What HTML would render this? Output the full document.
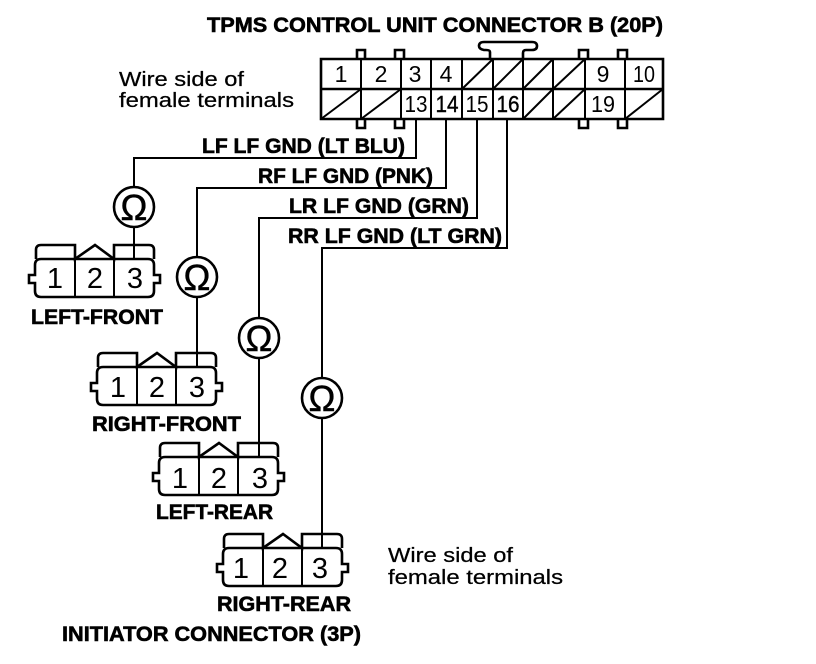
<!DOCTYPE html>
<html><head><meta charset="utf-8"><style>
html,body{margin:0;padding:0;background:#fff}
svg{display:block}
text{font-family:"Liberation Sans",sans-serif;fill:#000}
.b{font-weight:bold;font-size:21px;stroke:#000;stroke-width:.6px}
.r{font-size:20px;stroke:#000;stroke-width:.25px}
.n{font-size:29px;text-anchor:middle}
.m{font-size:23px;text-anchor:middle}
.o{font-size:36px;text-anchor:middle;stroke:#000;stroke-width:.5px}
.l{fill:none;stroke:#000;stroke-width:2}
.t{fill:none;stroke:#000;stroke-width:2.6}
</style></head><body>
<svg width="816" height="664" viewBox="0 0 816 664" xmlns="http://www.w3.org/2000/svg">
<defs>
<g id="c">
<path class="t" d="M41 259H148Q154 259 154 265V275H160V283H154V291Q154 297 148 297H41Q35 297 35 291V283H29V275H35V265Q35 259 41 259Z"/>
<path class="l" d="M75 259V297M114 259V297"/>
<path class="t" d="M36 259V250Q36 245 41 245H75V259L95 245L114 259V245H149Q154 245 154 250V259"/>
</g>
</defs>

<text class="b" x="207" y="32" textLength="456" lengthAdjust="spacingAndGlyphs">TPMS CONTROL UNIT CONNECTOR B (20P)</text>
<text class="r" x="119" y="86" textLength="125" lengthAdjust="spacingAndGlyphs">Wire side of</text>
<text class="r" x="119" y="107" textLength="175" lengthAdjust="spacingAndGlyphs">female terminals</text>

<!-- main connector -->
<path class="t" d="M321 59H663V119H321ZM321 89H663"/>
<path class="l" d="M361 59V119M401 59V119M431 59V119M462 59V119M493 59V119M523 59V119M553 59V119M585 59V119M625 59V119"/>
<path class="t" d="M357 59V50H365V59M395 59V50H404V59M579 59V50H588V59M618 59V50H627V59M357 119V128H365V119M395 119V128H404V119M579 119V128H588V119M618 119V128H627V119"/>
<path class="t" d="M490 59V52Q490 50 486 50H484Q479 49 479 46Q479 42 484 42H532Q537 42 537 46Q537 50 532 50H526Q523 50 523 53V59"/>
<path class="l" d="M462 89L493 59M493 89L523 59M523 89L553 59M553 89L585 59M321 119L361 89M361 119L401 89M523 119L553 89M553 119L585 89M625 119L663 89"/>

<text class="m" x="341" y="82">1</text>
<text class="m" x="381" y="82">2</text>
<text class="m" x="415" y="82">3</text>
<text class="m" x="446" y="82">4</text>
<text class="m" x="603" y="82">9</text>
<text class="m" x="644" y="82" textLength="22" lengthAdjust="spacingAndGlyphs">10</text>
<text class="m" x="416" y="112" textLength="23" lengthAdjust="spacingAndGlyphs">13</text>
<text class="m" x="447" y="112" textLength="23" lengthAdjust="spacingAndGlyphs" style="stroke:#000;stroke-width:.4px">14</text>
<text class="m" x="477" y="112" textLength="23" lengthAdjust="spacingAndGlyphs">15</text>
<text class="m" x="508" y="112" textLength="23" lengthAdjust="spacingAndGlyphs" style="stroke:#000;stroke-width:.4px">16</text>
<text class="m" x="603" y="112" textLength="24" lengthAdjust="spacingAndGlyphs">19</text>

<!-- wires -->
<path class="l" d="M416 119V158H134V187M134 227V259"/>
<path class="l" d="M446 119V188H197V257M197 297V367"/>
<path class="l" d="M477 119V218H259V318M259 358V457"/>
<path class="l" d="M507 119V248H322V378M322 418V548"/>

<!-- meters -->
<circle class="t" cx="134" cy="207" r="20"/>
<circle class="t" cx="197" cy="277" r="20"/>
<circle class="t" cx="259" cy="338" r="20"/>
<circle class="t" cx="322" cy="398" r="20"/>
<text class="o" x="134" y="220">Ω</text>
<text class="o" x="197" y="290">Ω</text>
<text class="o" x="259" y="351">Ω</text>
<text class="o" x="322" y="411">Ω</text>

<!-- wire labels -->
<text class="b" x="202" y="153" textLength="203" lengthAdjust="spacingAndGlyphs">LF LF GND (LT BLU)</text>
<text class="b" x="258" y="183" textLength="175" lengthAdjust="spacingAndGlyphs">RF LF GND (PNK)</text>
<text class="b" x="289" y="213" textLength="180" lengthAdjust="spacingAndGlyphs">LR LF GND (GRN)</text>
<text class="b" x="288" y="243" textLength="214" lengthAdjust="spacingAndGlyphs">RR LF GND (LT GRN)</text>

<!-- connectors -->
<use href="#c"/>
<use href="#c" transform="translate(62,108)"/>
<use href="#c" transform="translate(124,198)"/>
<use href="#c" transform="translate(188,289)"/>

<text class="n" x="55" y="288">1</text><text class="n" x="95" y="288">2</text><text class="n" x="135" y="288">3</text>
<text class="n" x="118" y="397">1</text><text class="n" x="157" y="397">2</text><text class="n" x="197" y="397">3</text>
<text class="n" x="180" y="488">1</text><text class="n" x="219" y="488">2</text><text class="n" x="260" y="488">3</text>
<text class="n" x="241" y="578">1</text><text class="n" x="280" y="578">2</text><text class="n" x="320" y="578">3</text>

<text class="b" x="31" y="324" textLength="132" lengthAdjust="spacingAndGlyphs">LEFT-FRONT</text>
<text class="b" x="92" y="431" textLength="149" lengthAdjust="spacingAndGlyphs">RIGHT-FRONT</text>
<text class="b" x="156" y="519" textLength="117" lengthAdjust="spacingAndGlyphs">LEFT-REAR</text>
<text class="b" x="217" y="611" textLength="134" lengthAdjust="spacingAndGlyphs">RIGHT-REAR</text>
<text class="b" x="62" y="641" textLength="299" lengthAdjust="spacingAndGlyphs">INITIATOR CONNECTOR (3P)</text>
<text class="r" x="388" y="562" textLength="125" lengthAdjust="spacingAndGlyphs">Wire side of</text>
<text class="r" x="388" y="584" textLength="175" lengthAdjust="spacingAndGlyphs">female terminals</text>
</svg>
</body></html>
